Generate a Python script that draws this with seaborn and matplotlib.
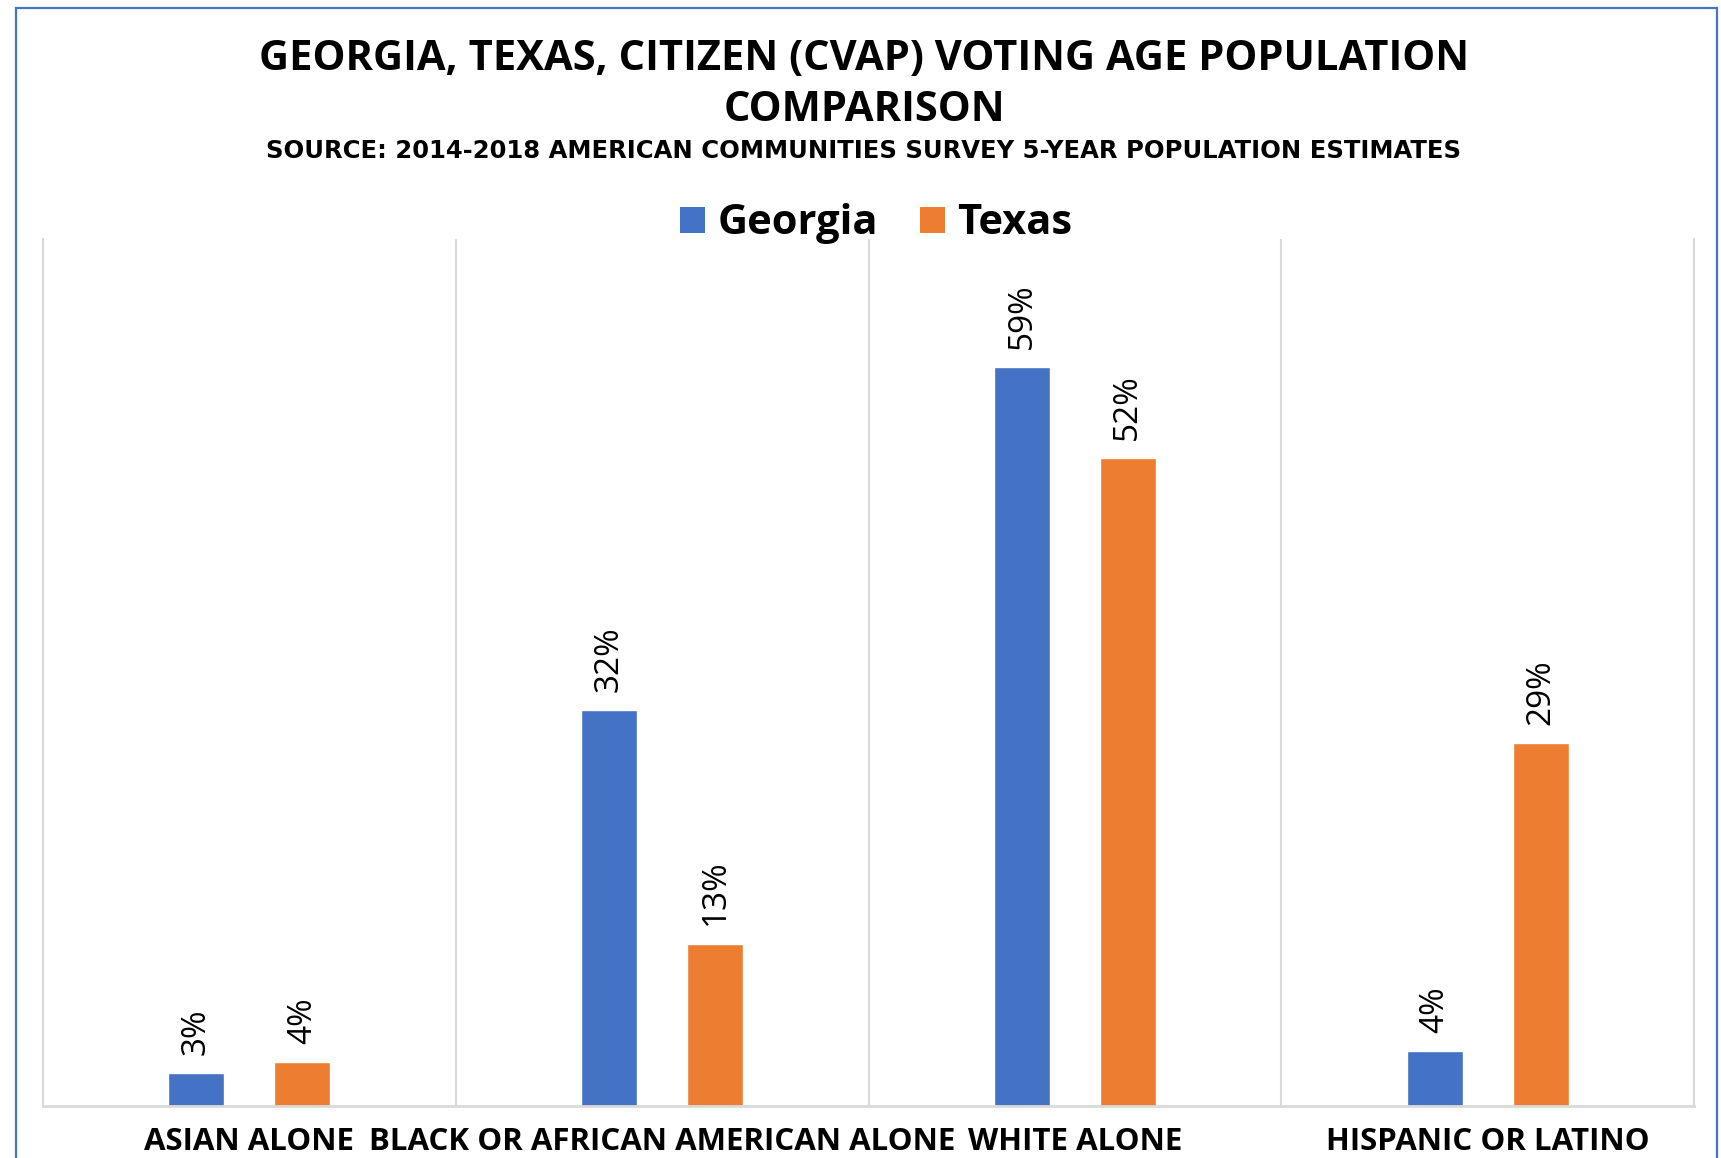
import matplotlib
matplotlib.use("Agg")
import matplotlib.pyplot as plt
import seaborn as sns
import pandas as pd
from matplotlib.patches import Rectangle, Patch

categories = ["ASIAN ALONE", "BLACK OR AFRICAN AMERICAN ALONE", "WHITE ALONE", "HISPANIC OR LATINO"]
georgia = [0.026, 0.317, 0.592, 0.044]
texas = [0.035, 0.130, 0.519, 0.291]
series = ["Georgia", "Texas"]
colors = ["#4472C4", "#ED7D31"]

title = "GEORGIA, TEXAS, CITIZEN (CVAP) VOTING AGE POPULATION\nCOMPARISON"
subtitle = "SOURCE: 2014-2018 AMERICAN COMMUNITIES SURVEY 5-YEAR POPULATION ESTIMATES"

df = pd.DataFrame({
    "category": categories * 2,
    "state": [series[0]] * len(categories) + [series[1]] * len(categories),
    "value": georgia + texas,
})

sns.set_theme(style="white")
plt.rcParams["font.family"] = ["Open Sans", "DejaVu Sans"]
plt.rcParams["text.color"] = "black"

W, H = 1721, 1158
fig = plt.figure(figsize=(W / 100, H / 100), dpi=100)
ax = fig.add_axes([43 / W, 1 - 1105.6 / H, (1694 - 43) / W, (1105.6 - 239) / H])

sns.barplot(data=df, x="category", y="value", hue="state", order=categories,
            hue_order=series, palette=colors, width=0.513, gap=0.47,
            saturation=1, ax=ax, errorbar=None, legend=False)

for cont in ax.containers:
    labels = [f"{round(b.get_height() * 100)}%" for b in cont]
    ax.bar_label(cont, labels=labels, rotation=90, padding=13, fontsize=24,
                 color="black")

ax.set_xlim(-0.5, 3.5)
ax.set_ylim(0, 0.695)
ax.set_xlabel("")
ax.set_ylabel("")
ax.set_yticks([])
ax.set_xticks(range(len(categories)))
ax.set_xticklabels(categories, fontsize=22.5, fontweight="bold", color="black")
ax.tick_params(axis="x", length=0, pad=15.5)
ax.set_xticks([-0.5, 0.5, 1.5, 2.5, 3.5], minor=True)
ax.tick_params(axis="x", which="minor", length=0)
ax.grid(True, axis="x", which="minor", color="#d9d9d9", lw=1.5)
ax.grid(False, axis="x", which="major")
for s in ["left", "right"]:
    ax.spines[s].set_color("#d9d9d9")
    ax.spines[s].set_linewidth(1.5)
ax.spines["top"].set_visible(False)
ax.spines["bottom"].set_color("#d9d9d9")
ax.spines["bottom"].set_linewidth(2)

fig.text(0.502, 1 - 85 / H, title, ha="center", va="center", fontsize=30,
         fontweight="bold", linespacing=1.32, color="black")
fig.text(0.502, 1 - 151 / H, subtitle, ha="center", va="center", fontsize=17.5,
         fontweight="bold", color="black", family=["DejaVu Sans"])

handles = [Patch(facecolor=c, edgecolor="none") for c in colors]
fig.legend(handles, series, loc="center", bbox_to_anchor=(876 / W, 1 - 224 / H),
           ncol=2, frameon=False, prop={"size": 30, "weight": "bold"},
           handlelength=0.6, handleheight=0.6, handletextpad=0.3,
           columnspacing=1.0, labelcolor="black")

fig.patches.append(Rectangle((15.5 / W, -0.05), (1717 - 15.5) / W, 1.05 - 7.5 / H,
                             transform=fig.transFigure, fill=False,
                             edgecolor="#4472C4", lw=1.6))

fig.savefig("out.png", dpi=100)
